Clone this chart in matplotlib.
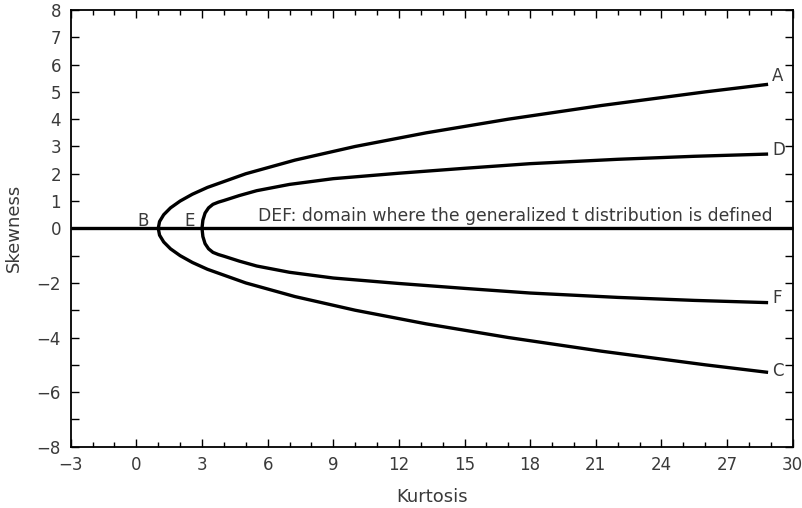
import matplotlib
matplotlib.use("Agg")
import matplotlib.pyplot as plt
import numpy as np

# Outer boundary (A upper, C lower): kurtosis vs |skewness|
outer_kurt = [1.0, 1.06, 1.25, 1.56, 2.0, 2.56, 3.25, 5.0, 7.25, 10.0, 13.25, 17.0, 21.25, 26.0, 28.8]
outer_skew = [0.0, 0.25, 0.5, 0.75, 1.0, 1.25, 1.5, 2.0, 2.5, 3.0, 3.5, 4.0, 4.5, 5.0, 5.27]

# Inner boundary (D upper, F lower)
inner_kurt = [3.0, 3.04, 3.14, 3.3, 3.5, 3.75, 4.0, 4.7, 5.5, 7.0, 9.0, 12.0, 15.0, 18.0, 22.0, 25.5, 28.8]
inner_skew = [0.0, 0.3, 0.56, 0.75, 0.88, 0.96, 1.02, 1.2, 1.38, 1.61, 1.82, 2.02, 2.2, 2.37, 2.53, 2.64, 2.72]

# Zero-skewness line
zero_kurt = [-3, 30]
zero_skew = [0, 0]

point_labels = ["A", "D", "F", "C"]
label_dy = [0.3, 0.15, 0.18, 0.04]
text_color = "#3a3a3a"

plt.rcParams["font.family"] = ["DejaVu Sans"]

fig = plt.figure(figsize=(8.02, 5.08), dpi=100)
ax = fig.add_axes([0.0882, 0.1207, 0.9002, 0.8596])

def full(k, s):
    k = np.asarray(k); s = np.asarray(s)
    return np.concatenate([k[::-1], k[1:]]), np.concatenate([-s[::-1], s[1:]])

lw = 2.4
ax.plot(zero_kurt, zero_skew, color="black", lw=lw, solid_capstyle="butt", clip_on=False)
k, s = full(outer_kurt, outer_skew)
ax.plot(k, s, color="black", lw=lw, solid_joinstyle="round")
k, s = full(inner_kurt, inner_skew)
ax.plot(k, s, color="black", lw=lw, solid_joinstyle="round")

fs = 12
ends = [(outer_kurt[-1], outer_skew[-1]), (inner_kurt[-1], inner_skew[-1]),
        (inner_kurt[-1], -inner_skew[-1]), (outer_kurt[-1], -outer_skew[-1])]
for lab, (xk, ys), dy in zip(point_labels, ends, label_dy):
    ax.text(xk + 0.25, ys + dy, lab, fontsize=fs, color=text_color,
            ha="left", va="center")

ax.text(outer_kurt[0] - 0.7, 0.09, "B", fontsize=fs, color=text_color, ha="center", va="baseline")
ax.text(inner_kurt[0] - 0.55, 0.09, "E", fontsize=fs, color=text_color, ha="center", va="baseline")
ax.text(5.55, 0.28, "DEF: domain where the generalized t distribution is defined",
        fontsize=12.4, color=text_color, ha="left", va="baseline")

ax.set_xlim(-3, 30)
ax.set_ylim(-8, 8)
ax.set_xticks(np.arange(-3, 31, 3))
ax.set_xticks(np.arange(-3, 31, 1), minor=True)
ax.set_xticklabels([f"{v}".replace("-", "\u2212") for v in range(-3, 31, 3)])
yt = list(range(-8, 9))
ax.set_yticks(yt)
ax.set_yticklabels([("" if (v < 0 and v % 2) else f"{v}".replace("-", "\u2212")) for v in yt])

ax.tick_params(axis="both", which="major", direction="in", length=6, width=1,
               labelsize=fs, labelcolor=text_color, top=True, right=True, pad=7)
ax.tick_params(axis="both", which="minor", direction="in", length=3.5, width=1, top=True, right=True)
for sp in ax.spines.values():
    sp.set_linewidth(1.3)

ax.set_xlabel("Kurtosis", fontsize=13, color=text_color, labelpad=10)
ax.set_ylabel("Skewness", fontsize=13, color=text_color, labelpad=10)

fig.savefig("out.png", dpi=100)
